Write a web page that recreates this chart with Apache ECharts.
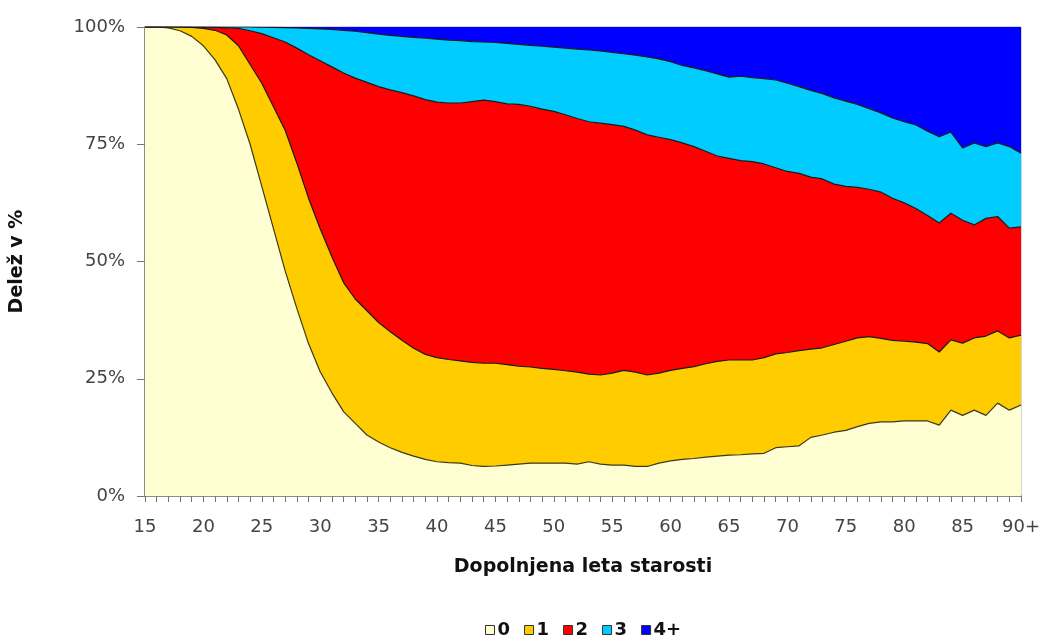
<!DOCTYPE html>
<html>
<head>
<meta charset="utf-8">
<script src="https://cdn.jsdelivr.net/npm/echarts@6/dist/echarts.min.js"></script>
<style>
html,body{margin:0;padding:0;background:#fff;}
#chart{width:1043px;height:638px;}
</style>
</head>
<body>
<div id="chart"></div>
<script>
// Ages 15 ... 90+
var ages = ['15','16','17','18','19','20','21','22','23','24','25','26','27','28','29','30',
  '31','32','33','34','35','36','37','38','39','40','41','42','43','44','45','46','47','48','49','50',
  '51','52','53','54','55','56','57','58','59','60','61','62','63','64','65','66','67','68','69','70',
  '71','72','73','74','75','76','77','78','79','80','81','82','83','84','85','86','87','88','89','90+'];

var seriesNames = ['0', '1', '2', '3', '4+'];

// share (%) of women by number of live-born children
var share0 = [100,100,99.8,99.2,98,96,93,89,82.5,75,66,57,48,40,32.5,26.5,
  22,18,15.5,13,11.5,10.3,9.3,8.5,7.8,7.3,7.1,7,6.5,6.3,6.4,6.6,6.8,7,7,7,
  7,6.8,7.3,6.8,6.6,6.6,6.3,6.3,7,7.5,7.8,8,8.3,8.5,8.7,8.8,9,9.1,10.3,10.5,
  10.7,12.5,13,13.6,14,14.8,15.5,15.8,15.8,16,16,16,15.1,18.3,17.2,18.3,17.2,19.8,18.3,19.4];

var share1 = [0,0,0.2,0.8,1.9,3.7,6.3,9.3,13.5,17,22,26,30,31,31,30.5,
  29,27.5,26.5,26.5,25.5,24.7,23.9,23,22.4,22.2,22,21.8,22,22,21.9,21.4,20.9,20.5,20.2,20,
  19.7,19.6,18.7,19,19.6,20.2,20.1,19.5,19.2,19.3,19.4,19.6,19.9,20.2,20.3,20.2,20,20.4,20,20.1,
  20.3,18.8,18.6,18.7,19,18.9,18.5,17.8,17.4,17,16.8,16.5,15.6,15,15.4,15.4,16.9,15.4,15.4,14.9];

var share2 = [0,0,0,0,0.1,0.3,0.6,1.5,3.7,7.2,10.6,14.7,18.8,24.5,30.6,35.8,
  40.5,44.7,47.1,48.7,50.3,51.6,52.8,53.8,54.3,54.5,54.7,55,55.6,56.1,55.8,55.6,55.8,55.6,55.3,55,
  54.6,54.1,53.8,53.7,53,52,51.6,51.2,50.3,49.2,48.1,46.9,45.3,43.8,43,42.5,42.3,41.3,39.7,38.6,
  37.8,36.7,36,34.2,33,32.1,31.4,31.2,30.3,29.5,28.5,27.3,27.5,27,26.2,24.1,25.1,24.4,23.4,23.1];

var share3 = [0,0,0,0,0,0,0.1,0.2,0.3,0.8,1.35,2.2,3.05,4.3,5.6,6.8,
  8,9.1,10,10.6,11.2,11.6,12,12.5,13.1,13.4,13.4,13.3,12.8,12.4,12.6,12.9,12.8,13,13.4,13.7,
  14.2,14.8,15.3,15.4,15.4,15.5,16,16.6,16.7,16.6,16.5,16.8,17.2,17.5,17.3,18,17.9,18.2,18.7,18.8,
  18.5,18.5,18.2,18.4,18.2,17.7,17.2,16.9,17.1,17.3,17.8,18,18.4,17.3,15.4,17.5,15.3,15.7,17.4,15.7];

var share4 = [0,0,0,0,0,0,0,0,0,0,0.05,0.1,0.15,0.2,0.3,0.4,
  0.5,0.7,0.9,1.2,1.5,1.8,2,2.2,2.4,2.6,2.8,2.9,3.1,3.2,3.3,3.5,3.7,3.9,4.1,4.3,
  4.5,4.7,4.9,5.1,5.4,5.7,6,6.4,6.8,7.4,8.2,8.7,9.3,10,10.7,10.5,10.8,11,11.3,12,
  12.7,13.5,14.2,15.1,15.8,16.5,17.4,18.3,19.4,20.2,20.9,22.2,23.4,22.4,25.8,24.7,25.5,24.7,25.5,26.9];

var yTicks = [0, 25, 50, 75, 100];

var seriesData = [share0, share1, share2, share3, share4];
var fills = ['#FFFDD2', '#FFCC00', '#FF0000', '#00CCFF', '#0000FF'];
var FONT = 'DejaVu Sans';

var chart = echarts.init(document.getElementById('chart'), null, {renderer: 'canvas'});

var series = seriesData.map(function (d, i) {
  return {
    name: seriesNames[i],
    type: 'line',
    stack: 'total',
    data: d,
    symbol: 'none',
    showSymbol: false,
    smooth: false,
    lineStyle: i === 4 ? {width: 0, color: fills[i]} : {width: 1.2, color: i === 0 ? '#3a3a1a' : '#1a1a1a'},
    itemStyle: {color: fills[i], borderColor: '#333', borderWidth: 1},
    areaStyle: {color: fills[i], opacity: 1},
    emphasis: {disabled: true}
  };
});

chart.setOption({
  animation: false,
  color: fills,
  grid: {
    left: 145, right: 18, top: 27, bottom: 142,
    show: true, borderColor: '#a8a8c4', borderWidth: 1, backgroundColor: 'transparent'
  },
  legend: {
    data: seriesNames,
    left: 480,
    top: 616,
    icon: 'rect',
    itemWidth: 9,
    itemHeight: 9,
    itemGap: 14,
    itemStyle: {borderColor: '#333', borderWidth: 1},
    textStyle: {fontFamily: FONT, fontSize: 18, fontWeight: 'bold', color: '#111', padding: [0, 0, 0, -2]}
  },
  xAxis: {
    type: 'category',
    data: ages,
    boundaryGap: false,
    name: 'Dopolnjena leta starosti',
    nameLocation: 'middle',
    nameGap: 62,
    nameTextStyle: {fontFamily: FONT, fontSize: 19, fontWeight: 'bold', color: '#111'},
    axisLine: {show: true, lineStyle: {color: '#777766', width: 1.5}},
    axisTick: {show: true, interval: 0, length: 6, lineStyle: {color: '#777766'}},
    axisLabel: {interval: 4, margin: 22, fontFamily: FONT, fontSize: 18, color: '#444'},
    splitLine: {show: false}
  },
  yAxis: {
    type: 'value',
    min: yTicks[0],
    max: yTicks[yTicks.length - 1],
    interval: 25,
    name: 'Delež v %',
    nameLocation: 'middle',
    nameGap: 118,
    nameTextStyle: {fontFamily: FONT, fontSize: 19, fontWeight: 'bold', color: '#111'},
    axisLine: {show: true, lineStyle: {color: '#777766', width: 1.5}},
    axisTick: {show: true, length: 8, lineStyle: {color: '#777766'}},
    axisLabel: {margin: 20, fontFamily: FONT, fontSize: 18, color: '#444', formatter: '{value}%'},
    splitLine: {show: false}
  },
  series: series
});
</script>
</body>
</html>
